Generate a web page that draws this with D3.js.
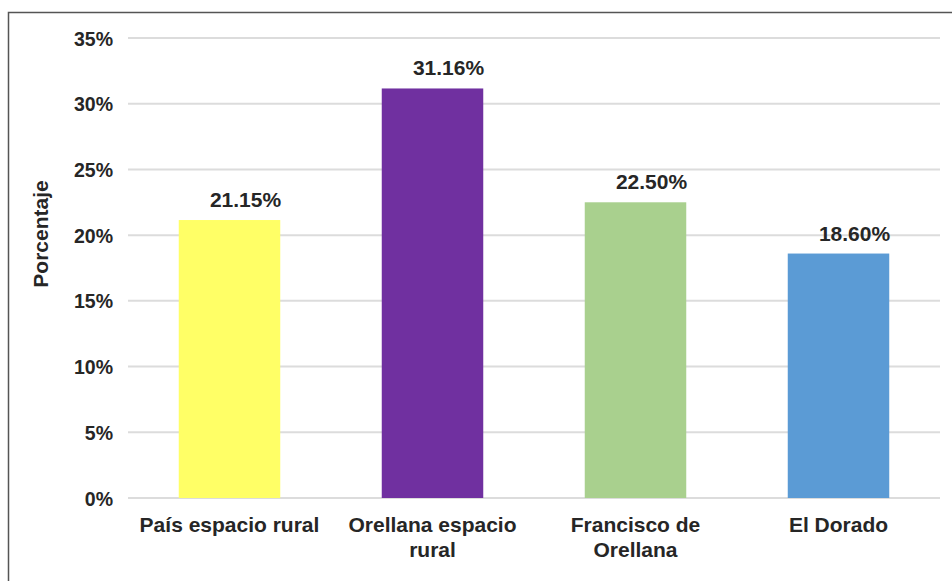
<!DOCTYPE html>
<html><head><meta charset="utf-8">
<script src="https://cdn.jsdelivr.net/npm/d3@7"></script>
<style>body{margin:0;background:#fff}svg{display:block}</style>
</head><body>
<svg id="c" width="952" height="581"></svg>
<script>
const categories = [["País espacio rural"], ["Orellana espacio", "rural"], ["Francisco de", "Orellana"], ["El Dorado"]];
const values = [21.15, 31.16, 22.50, 18.60];
const colors = ["#ffff66", "#7030a0", "#a9d08e", "#5b9bd5"];
const yTicks = [0, 5, 10, 15, 20, 25, 30, 35];
const yTitle = "Porcentaje";

const svg = d3.select("#c");
const font = "'Liberation Sans', Arial, sans-serif";
svg.append("rect").attr("x", 8.5).attr("y", 12.5).attr("width", 960).attr("height", 600)
  .attr("fill", "none").attr("stroke", "#555").attr("stroke-width", 1.5);

const x = d3.scaleBand().domain(d3.range(values.length)).range([128, 940]).paddingInner(0.5).paddingOuter(0.25);
const y = d3.scaleLinear().domain([0, 35]).range([498, 38]);

const g = svg.append("g");
g.selectAll("line.grid").data(yTicks).join("line")
  .attr("x1", 128).attr("x2", 940).attr("y1", d => y(d)).attr("y2", d => y(d))
  .attr("stroke", "#dcdcdc").attr("stroke-width", 2);

g.selectAll("text.yt").data(yTicks).join("text")
  .attr("x", 113).attr("y", d => y(d) + 7.5)
  .attr("text-anchor", "end").attr("font-family", font).attr("font-weight", "bold")
  .attr("font-size", 19.5).attr("fill", "#262626").text(d => d + "%");

g.selectAll("rect.bar").data(values).join("rect")
  .attr("x", (d, i) => x(i)).attr("width", x.bandwidth())
  .attr("y", d => y(d)).attr("height", d => y(0) - y(d)).attr("fill", (d, i) => colors[i]);

g.selectAll("text.lbl").data(values).join("text")
  .attr("x", (d, i) => x(i) + x.bandwidth() / 2 + 16).attr("y", d => y(d) - 13)
  .attr("text-anchor", "middle").attr("font-family", font).attr("font-weight", "bold")
  .attr("font-size", 21).attr("fill", "#262626").text(d => d.toFixed(2) + "%");

categories.forEach((lines, i) => {
  const t = g.append("text").attr("text-anchor", "middle").attr("font-family", font)
    .attr("font-weight", "bold").attr("font-size", 21).attr("fill", "#262626");
  lines.forEach((ln, k) => {
    t.append("tspan").attr("x", x(i) + x.bandwidth() / 2).attr("y", 532 + k * 25).text(ln);
  });
});

svg.append("text").attr("transform", "translate(48,234) rotate(-90)")
  .attr("text-anchor", "middle").attr("font-family", font).attr("font-weight", "bold")
  .attr("font-size", 21).attr("fill", "#262626").text(yTitle);
</script>
</body></html>
